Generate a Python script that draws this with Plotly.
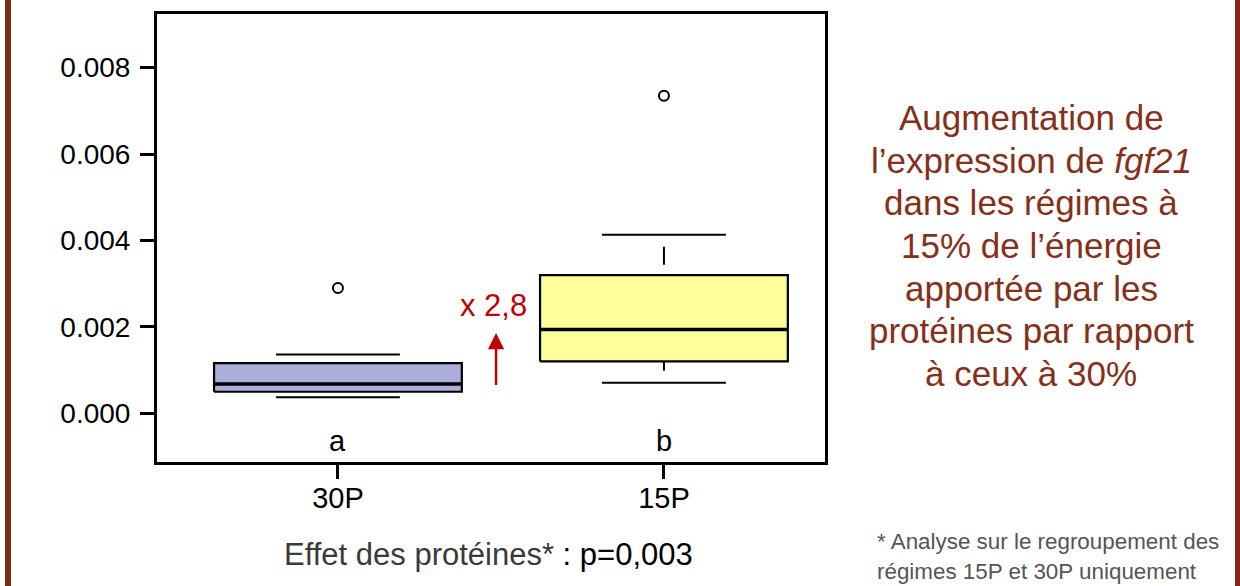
import plotly.graph_objects as go

# ---------------- data ----------------
groups = ["30P", "15P"]
q1 = [0.00050, 0.00120]
median = [0.00068, 0.00194]
q3 = [0.00116, 0.00320]
lower_whisker = [0.00037, 0.00071]
upper_whisker = [0.00136, 0.00413]
outliers = [[0.00290], [0.00735]]
letters = ["a", "b"]
y_ticks = [0.000, 0.002, 0.004, 0.006, 0.008]
y_ticktext = ["0.000", "0.002", "0.004", "0.006", "0.008"]
fold_text = "x 2,8"
fold_arrow_from = 0.00062
fold_arrow_to = 0.00186
right_lines = [
    "Augmentation de",
    "l\u2019expression de <i>fgf21</i>",
    "dans les r\u00e9gimes \u00e0",
    "15% de l\u2019\u00e9nergie",
    "apport\u00e9e par les",
    "prot\u00e9ines par rapport",
    "\u00e0 ceux \u00e0 30%",
]
footnote_lines = ["* Analyse sur le regroupement des", "r\u00e9gimes 15P et 30P uniquement"]

# ---------------- styles ----------------
fill_colors = ["#AAAEDA", "#FFFF99"]
half_box = 0.38
half_cap = 0.19
FONT = "Liberation Sans, Arial, sans-serif"
BROWN = "#7E2B16"
TEXT_BROWN = "#86301A"
RED = "#C00000"

fig = go.Figure()

for i, g in enumerate(groups):
    # whiskers (dashed), drawn from the whisker end toward the box
    for end, edge in ((upper_whisker[i], q3[i]), (lower_whisker[i], q1[i])):
        fig.add_trace(go.Scatter(
            x=[i, i], y=[end, edge], mode="lines",
            line=dict(color="black", width=2, dash="0px,12px,18px,0px"),
            hoverinfo="skip", showlegend=False))
    # caps
    for end in (upper_whisker[i], lower_whisker[i]):
        fig.add_trace(go.Scatter(
            x=[i - half_cap, i + half_cap], y=[end, end], mode="lines",
            line=dict(color="black", width=2),
            hoverinfo="skip", showlegend=False))
    # box
    fig.add_trace(go.Scatter(
        x=[i - half_box, i + half_box, i + half_box, i - half_box, i - half_box],
        y=[q1[i], q1[i], q3[i], q3[i], q1[i]],
        mode="lines", fill="toself", fillcolor=fill_colors[i],
        line=dict(color="black", width=2.2),
        name=g, showlegend=False))
    # median
    fig.add_trace(go.Scatter(
        x=[i - half_box, i + half_box], y=[median[i], median[i]], mode="lines",
        line=dict(color="black", width=3.5),
        hoverinfo="skip", showlegend=False))
    # outliers
    fig.add_trace(go.Scatter(
        x=[i] * len(outliers[i]), y=outliers[i], mode="markers",
        marker=dict(symbol="circle-open", size=10, color="black",
                    line=dict(width=2, color="black")),
        showlegend=False))

# ---------------- layout geometry (pixel coordinates) ----------------
W, H = 1240, 586
L, T, R, B = 157, 11, 825, 462
PW, PH = R - L, B - T


def px(xp):
    return (xp - L) / PW


def py(yp):
    return (B - yp) / PH


annotations = []
# significance letters
for i, lt in enumerate(letters):
    annotations.append(dict(x=i, xref="x", y=py(441), yref="paper", text=lt,
                            showarrow=False, font=dict(family=FONT, size=29, color="black"),
                            xanchor="center", yanchor="middle"))
# fold change text and arrow
annotations.append(dict(x=px(494), xref="paper", y=py(304), yref="paper", text=fold_text,
                        showarrow=False, font=dict(family=FONT, size=31, color=RED),
                        xanchor="center", yanchor="middle"))
annotations.append(dict(x=0.485, y=fold_arrow_to, xref="x", yref="y",
                        ax=0.485, ay=fold_arrow_from, axref="x", ayref="y",
                        text="", showarrow=True, arrowhead=2, arrowsize=1.3,
                        arrowwidth=2.5, arrowcolor=RED))
# right text, one line per annotation
for k, line in enumerate(right_lines):
    annotations.append(dict(x=px(1031), xref="paper", y=py(115 + 43 * k), yref="paper",
                            text=line, showarrow=False, xanchor="center", yanchor="middle",
                            font=dict(family=FONT, size=35, color=TEXT_BROWN)))
# bottom text
annotations.append(dict(x=px(488), xref="paper", y=py(555), yref="paper",
                        text="<span style='color:#3a3a3a'>Effet des prot\u00e9ines*</span>"
                             "<span style='color:#000000'> : p=0,003</span>",
                        showarrow=False, xanchor="center", yanchor="middle",
                        font=dict(family=FONT, size=31, color="#000000")))
# footnote
for k, line in enumerate(footnote_lines):
    annotations.append(dict(x=px(875), xref="paper", y=py(542 + 30 * k), yref="paper",
                            text=line, showarrow=False, xanchor="left", yanchor="middle",
                            font=dict(family=FONT, size=22.4, color="#555555")))

shapes = [
    dict(type="rect", xref="paper", yref="paper", x0=px(5), x1=px(11), y0=py(600), y1=py(-10),
         fillcolor=BROWN, line=dict(width=0), layer="above"),
    dict(type="rect", xref="paper", yref="paper", x0=px(1235), x1=px(1245), y0=py(600), y1=py(-10),
         fillcolor=BROWN, line=dict(width=0), layer="above"),
]

fig.update_layout(
    width=W, height=H,
    margin=dict(l=L, r=W - R, t=T, b=H - B, pad=0),
    paper_bgcolor="white", plot_bgcolor="white",
    showlegend=False,
    font=dict(family=FONT, color="black"),
    annotations=annotations,
    shapes=shapes,
)
fig.update_xaxes(
    range=[-0.555, 1.494], tickvals=[0, 1], ticktext=groups,
    showgrid=False, zeroline=False,
    showline=True, mirror=True, linecolor="black", linewidth=3,
    ticks="outside", ticklen=14, tickwidth=3, tickcolor="black",
    tickfont=dict(family=FONT, size=29, color="black"),
    ticklabelstandoff=-6,
)
fig.update_yaxes(
    range=[-0.001126, 0.00924], tickvals=y_ticks, ticktext=y_ticktext,
    showgrid=False, zeroline=False,
    showline=True, mirror=True, linecolor="black", linewidth=3,
    ticks="outside", ticklen=14, tickwidth=3, tickcolor="black",
    tickfont=dict(family=FONT, size=28, color="black"),
    ticklabelstandoff=4,
)

# remove the default page margin so the figure fills the window exactly
fig.write_html("out.html",
               config={"displayModeBar": False},
               post_script="document.body.style.margin='0';document.body.style.overflow='hidden';")
